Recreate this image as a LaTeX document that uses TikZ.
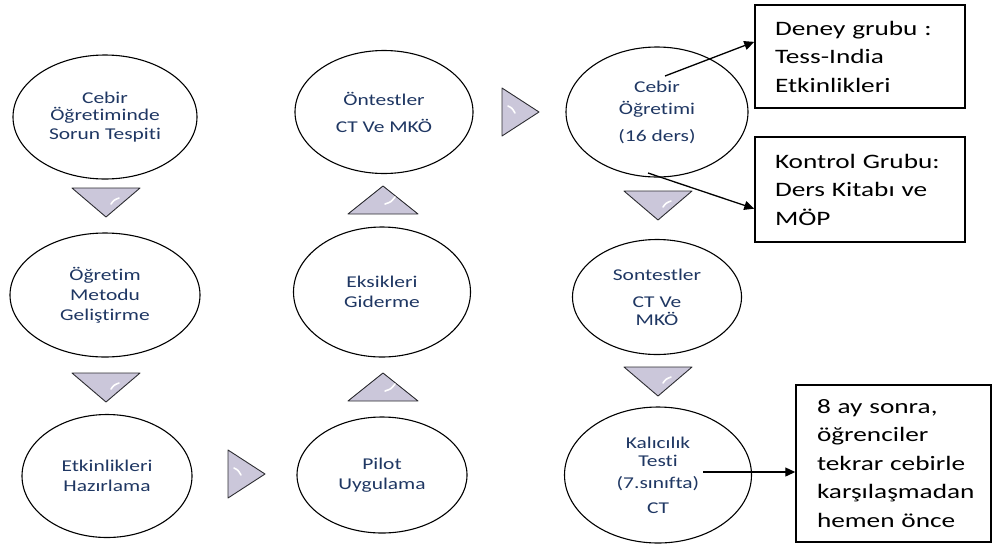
\documentclass[tikz,border=0pt]{standalone}
\usepackage{fontspec}
\setmainfont{Carlito}[FakeStretch=1.3,Ligatures=NoCommon]
\newfontfamily\widefont{Carlito}[FakeStretch=1.33,Ligatures=NoCommon]
\usetikzlibrary{shapes.geometric,arrows.meta,calc}
\definecolor{navytxt}{RGB}{31,55,99}
\definecolor{trifill}{RGB}{203,199,218}
\definecolor{triedge}{RGB}{45,45,50}
\tikzset{
  stage/.style={ellipse,draw=black,line width=1.1pt,fill=white,inner sep=0pt,
    text=navytxt,align=center,font=\fontsize{16.5}{20}\selectfont},
  notebox/.style={rectangle,draw=black,line width=1.5pt,inner sep=0pt,
    align=left,text=black,font=\widefont\fontsize{20.5}{28.5}\selectfont},
  tri/.style={fill=trifill,draw=triedge,line width=0.9pt,line join=round},
  shine/.style={white,line width=1.6pt,line cap=round},
  pointer/.style={line width=1.3pt,-{Triangle[length=10pt,width=9pt]}}
}
\begin{document}
\begin{tikzpicture}[x=1pt,y=-1pt]
\useasboundingbox (0,0) rectangle (993,547);
% column 1
\node[stage,minimum width=184pt,minimum height=124pt] (e1) at (105,117)
  {Cebir\\[-3pt]Öğretiminde\\[-1pt]Sorun Tespiti};
\node[stage,minimum width=190pt,minimum height=124pt] (e2) at (105,295)
  {Öğretim\\Metodu\\Geliştirme};
\node[stage,minimum width=170pt,minimum height=123pt] (e3) at (107,476)
  {Etkinlikleri\\Hazırlama};
% column 2
\node[stage,minimum width=178pt,minimum height=123pt] (e4) at (384,112)
  {Öntestler\\[7pt]CT Ve MKÖ};
\node[stage,minimum width=177pt,minimum height=130pt] (e5) at (382,292)
  {Eksikleri\\Giderme};
\node[stage,minimum width=170pt,minimum height=116pt] (e6) at (382,475)
  {Pilot\\Uygulama};
% column 3
\node[stage,minimum width=182pt,minimum height=130pt] (e7) at (657,112)
  {Cebir\\[2pt]Öğretimi\\[7pt](16 ders)};
\node[stage,minimum width=169pt,minimum height=115pt] (e8) at (657,297)
  {Sontestler\\[7pt]CT Ve\\[-2pt]MKÖ};
\node[stage,minimum width=187pt,minimum height=136pt] (e9) at (658,475)
  {Kalıcılık\\[-2pt]Testi\\[2pt](7.sınıfta)\\[5pt]CT};
% boxes
\node[notebox,minimum width=210pt,minimum height=103pt,text width=170pt] (b1) at (860,56.5)
  {Deney grubu :\\Tess-India\\Etkinlikleri};
\node[notebox,minimum width=210pt,minimum height=105pt,text width=170pt] (b2) at (860,189.5)
  {Kontrol Grubu:\\Ders Kitabı ve\\MÖP};
\node[notebox,minimum width=195pt,minimum height=157pt,text width=153pt] (b3) at (893.5,463.5)
  {8 ay sonra,\\öğrenciler\\tekrar cebirle\\karşılaşmadan\\hemen önce};
% triangles down (column 1 and 3)
\foreach \cx/\ty in {106/188, 106/373, 658/191, 658/367} {
  \draw[tri] (\cx-34,\ty) -- (\cx+34,\ty) -- (\cx,\ty+29) -- cycle;
  \draw[shine] (\cx+5,\ty+16) .. controls (\cx+8,\ty+12) .. (\cx+13,\ty+10);
}
% triangles up (column 2)
\foreach \cx/\ty in {383/186, 383/373} {
  \draw[tri] (\cx-35,\ty+28) -- (\cx+35,\ty+28) -- (\cx,\ty) -- cycle;
  \draw[shine] (\cx+2,\ty+18) .. controls (\cx+8,\ty+16) .. (\cx+12,\ty+11);
}
% triangles right
\foreach \lx/\cy in {228/474, 502/112} {
  \draw[tri] (\lx,\cy-24) -- (\lx,\cy+24) -- (\lx+37,\cy) -- cycle;
  \draw[shine] (\lx+6,\cy-6) .. controls (\lx+10,\cy-4) .. (\lx+13,\cy+1);
}
% connectors
\coordinate (s1) at (665,76);
\coordinate (t1) at ($(b1.north west)!0.36!(b1.south west)$);
\coordinate (s2) at (648,173);
\coordinate (t2) at ($(b2.north west)!0.68!(b2.south west)$);
\coordinate (s3) at (703,472);
\draw[pointer] (s1) -- (t1);
\draw[pointer] (s2) -- (t2);
\draw[pointer] (s3) -- (s3 -| b3.west);
\end{tikzpicture}
\end{document}
